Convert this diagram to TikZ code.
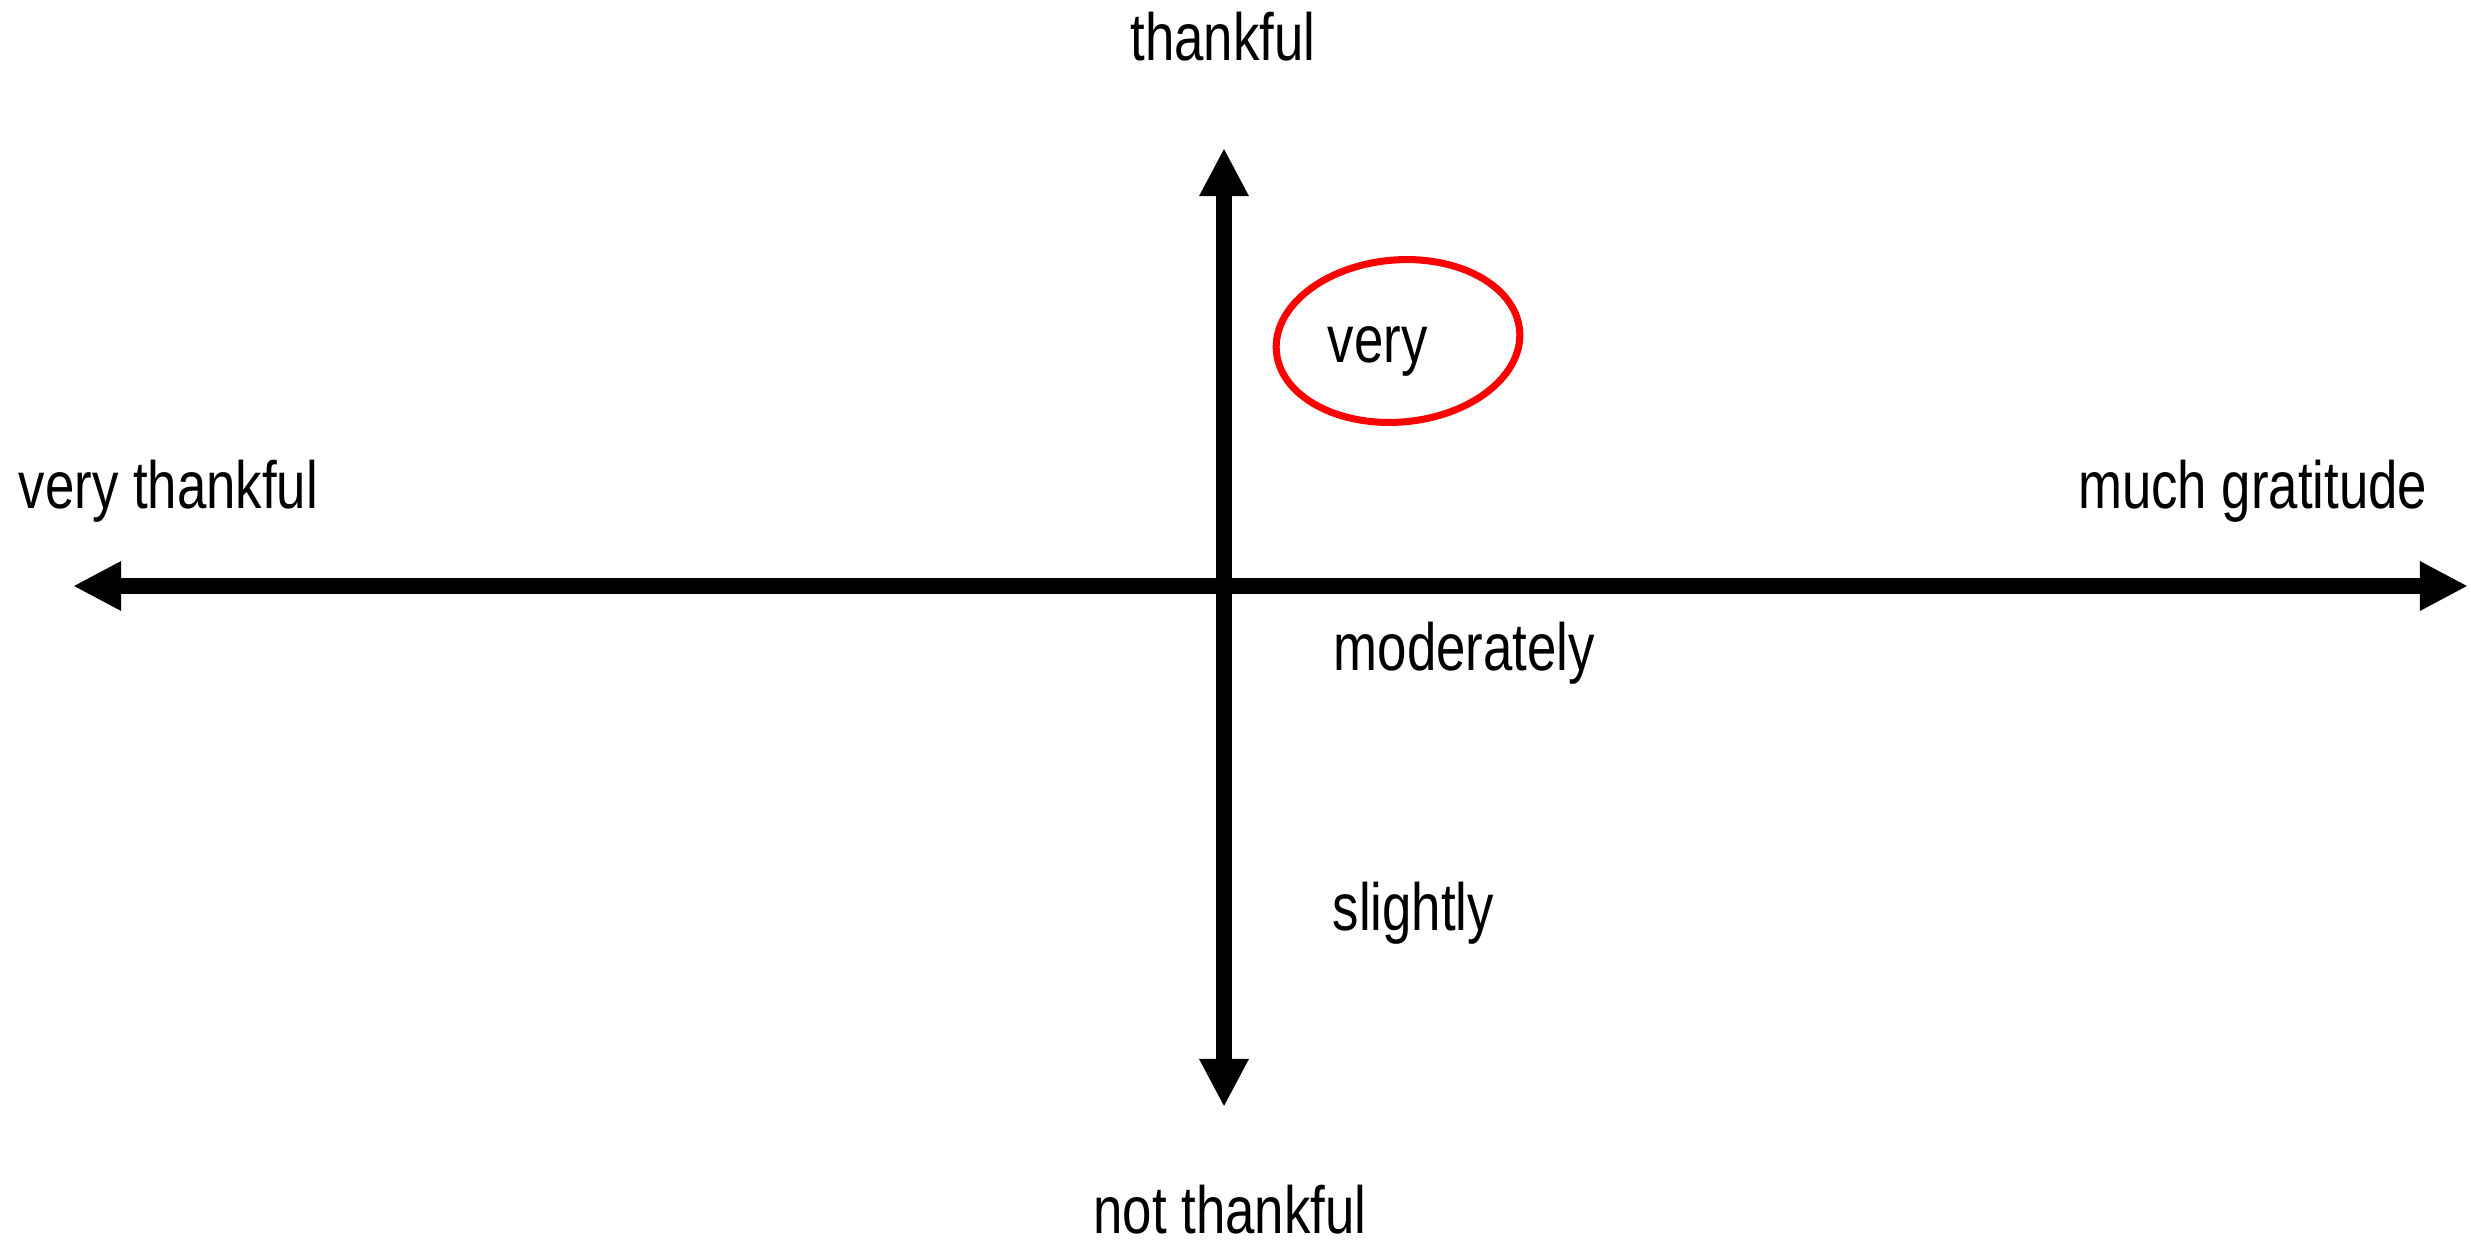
\documentclass[tikz,border=0pt]{standalone}
\usepackage{fontspec}
\setmainfont{Liberation Sans}[FakeStretch=0.79]
\usepackage{tikz}
\usetikzlibrary{
  arrows.meta,
  positioning,
  shapes.geometric
}
\definecolor{ink}{HTML}{000000}
\definecolor{paper}{HTML}{FFFFFF}
\definecolor{ringred}{HTML}{FF0000}
\tikzset{
  axis/.style={
    {Triangle[length=4.8mm, width=4.6mm]}-{Triangle[length=4.8mm, width=4.6mm]},
    line width=0.16cm,
    draw=ink
  },
  tag/.style={
    inner sep=0pt,
    text=ink,
    font=\fontsize{19pt}{23pt}\selectfont
  },
  ring/.style={
    ellipse,
    draw=ringred,
    line width=2pt,
    minimum width=2.44cm,
    minimum height=1.62cm,
    inner sep=0pt
  }
}

\begin{document}
\begin{tikzpicture}[x=0.01cm, y=-0.01cm]
  \fill[paper] (0,0) rectangle (2471,1242);
  \useasboundingbox (0,0) rectangle (2471,1242);

  \coordinate (west) at (73,586);
  \coordinate (east) at (2468,586);
  \coordinate (north) at (1224,148);
  \coordinate (south) at (1224,1107);

  \draw[axis] (west) -- (east);
  \draw[axis] (south) -- (north);

  \node[tag, anchor=base] (top) at (1223,60) {thankful};
  \node[tag, anchor=base] (bottom) at (1230,1233) {not thankful};
  \node[tag, anchor=base west] (left) at (18,508) {very thankful};
  \node[tag, anchor=base east] (right) at (2428,508) {much gratitude};

  \node[tag, anchor=base west] (very) at (1327,362) {very};
  \node[tag, anchor=base west] (moderately) at (1333,670) {moderately};
  \node[tag, anchor=base west] (slightly) at (1332,930) {slightly};

  \node[ring, rotate=5] (veryring) at (1398,341) {};
\end{tikzpicture}
\end{document}
